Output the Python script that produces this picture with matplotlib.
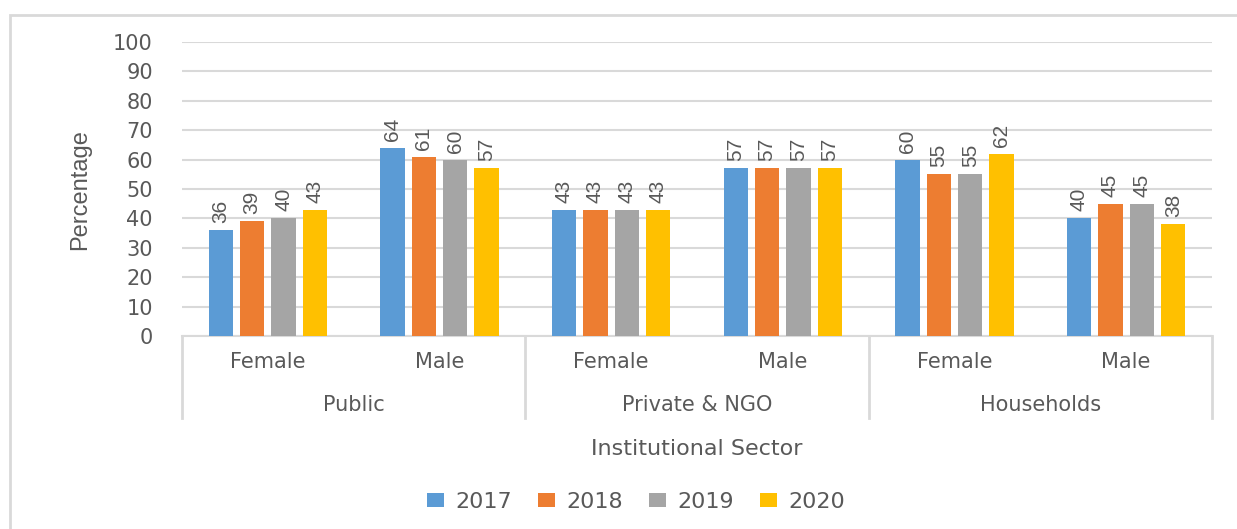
import matplotlib
matplotlib.use("Agg")
import matplotlib.pyplot as plt
from matplotlib.patches import Rectangle, Patch
import numpy as np

# data
sectors = ["Public", "Private & NGO", "Households"]
sexes = ["Female", "Male"]
years = ["2017", "2018", "2019", "2020"]
v2017 = [36, 64, 43, 57, 60, 40]
v2018 = [39, 61, 43, 57, 55, 45]
v2019 = [40, 60, 43, 57, 55, 45]
v2020 = [43, 57, 43, 57, 62, 38]
yticks = [0, 10, 20, 30, 40, 50, 60, 70, 80, 90, 100]

series = [v2017, v2018, v2019, v2020]
colors = ["#5B9BD5", "#ED7D31", "#A5A5A5", "#FFC000"]
text_col = "#595959"
grid_col = "#D9D9D9"

plt.rcParams["font.family"] = ["DejaVu Sans"]
narrow = ["Liberation Sans Narrow", "Liberation Sans", "DejaVu Sans"]

fig = plt.figure(figsize=(12.37, 5.29), dpi=100)
ax = fig.add_axes([182 / 1237, 1 - 336 / 529, (1212 - 182) / 1237, (336 - 42) / 529])

# outer chart frame (only left and top visible in the crop)
fig.patches.append(Rectangle((10 / 1237, -0.05), 1.2, 0.05 + 1 - 15 / 529,
                             transform=fig.transFigure, fill=False,
                             edgecolor=grid_col, lw=2))

n = len(sectors) * len(sexes)
centers = np.arange(n) + 0.5
step = 0.183
width = 0.142
for j, (vals, c) in enumerate(zip(series, colors)):
    xs = centers + (j - 1.5) * step
    ax.bar(xs, vals, width=width, color=c, zorder=3)
    for x, v in zip(xs, vals):
        ax.annotate(str(v), (x, v), xytext=(0, 5), textcoords="offset points",
                    rotation=90, ha="center", va="bottom", fontsize=15,
                    color=text_col, family=narrow)

ax.set_xlim(0, n)
ax.set_ylim(0, 100)
ax.set_yticks(yticks)
ax.tick_params(axis="y", length=0, pad=21, labelsize=15, labelcolor=text_col)
ax.set_xticks([])
ax.grid(axis="y", color=grid_col, lw=1.5, zorder=0)
for s in ["top", "right", "left"]:
    ax.spines[s].set_visible(False)
ax.spines["bottom"].set_color(grid_col)
ax.spines["bottom"].set_linewidth(1.5)

# multi-level category axis
for i in range(n):
    ax.text(centers[i], -0.088, sexes[i % 2], transform=ax.get_xaxis_transform(),
            ha="center", va="center", fontsize=15, color=text_col)
for k, name in enumerate(sectors):
    ax.text(2 * k + 1, -0.235, name, transform=ax.get_xaxis_transform(),
            ha="center", va="center", fontsize=15, color=text_col)
for k in range(len(sectors) + 1):
    ax.plot([2 * k, 2 * k], [0, -0.279], transform=ax.get_xaxis_transform(),
            color=grid_col, lw=2, clip_on=False)

ax.text(0.5, -0.384, "Institutional Sector", transform=ax.transAxes,
        ha="center", va="center", fontsize=16, color=text_col)
fig.text(80 / 1237, 1 - 190 / 529, "Percentage", rotation=90, ha="center",
         va="center", fontsize=17, color=text_col, family=narrow)

handles = [Patch(facecolor=c, label=y) for c, y in zip(colors, years)]
fig.legend(handles=handles, loc="center", bbox_to_anchor=(636 / 1237, 1 - 502 / 529),
           ncol=4, frameon=False, fontsize=16, handlelength=0.75, handleheight=0.55,
           handletextpad=0.5, columnspacing=1.2, labelcolor=text_col)

fig.savefig("out.png", dpi=100, facecolor="white")
